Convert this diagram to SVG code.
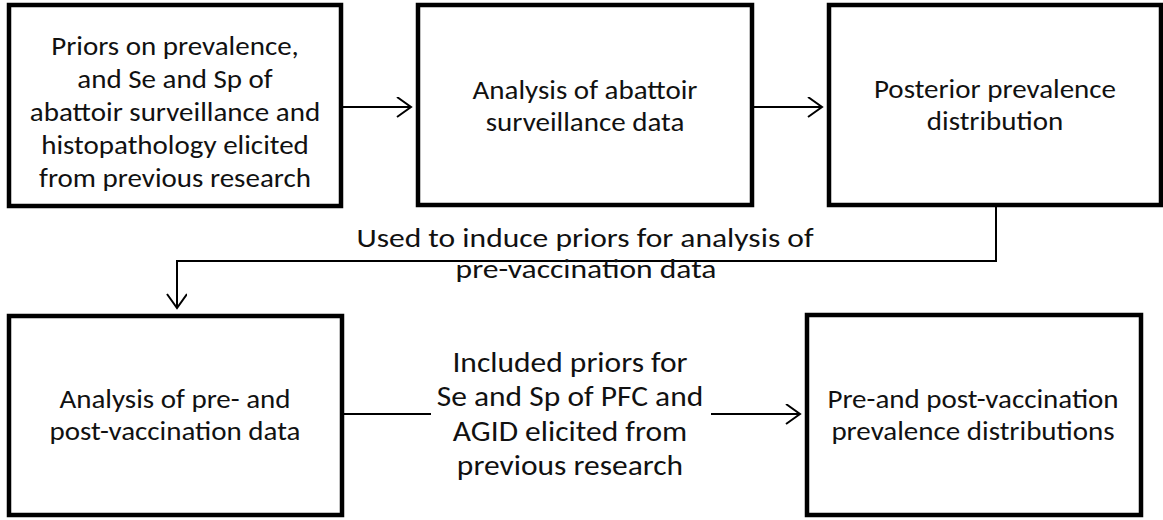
<svg xmlns="http://www.w3.org/2000/svg" width="1163" height="520" viewBox="0 0 1163 520">
<defs>
<style>
.box{fill:#fff;stroke:#000;stroke-width:4.5}
.t{font-family:Carlito,"Liberation Sans",Arial,sans-serif;font-size:27.5px;fill:#111;text-anchor:middle}
.l3{font-size:26.5px}
.l4{font-size:29px}
.c{fill:none;stroke:#000;stroke-width:2}
</style>
<marker id="ah" markerUnits="userSpaceOnUse" markerWidth="20" markerHeight="24" refX="15" refY="10" orient="auto" viewBox="0 0 20 24">
<path d="M1,0 L15,10 L1,20" fill="none" stroke="#000" stroke-width="2"/>
</marker>
</defs>
<rect width="1163" height="520" fill="#fff"/>
<g id="connectors">
<line class="c" x1="343" y1="107" x2="411" y2="107" marker-end="url(#ah)"/>
<line class="c" x1="754" y1="107" x2="822" y2="107" marker-end="url(#ah)"/>
<polyline class="c" points="996,207 996,261 177,261 177,308" marker-end="url(#ah)"/>
<line class="c" x1="344" y1="414" x2="431" y2="414"/>
<line class="c" x1="711" y1="414" x2="800" y2="414" marker-end="url(#ah)"/>
<text class="t l3" transform="translate(585,247) scale(1.19,1)">Used to induce priors for analysis of</text>
<text class="t l3" transform="translate(586,278) scale(1.19,1)">pre-vaccination data</text>
<text class="t l4" transform="translate(570,372) scale(1.086,1)">Included priors for</text>
<text class="t l4" transform="translate(570,406) scale(1.086,1)">Se and Sp of PFC and</text>
<text class="t l4" transform="translate(570,441) scale(1.086,1)">AGID elicited from</text>
<text class="t l4" transform="translate(570,475) scale(1.086,1)">previous research</text>
</g>
<g id="n1">
<rect class="box" x="9" y="5" width="332" height="201"/>
<text class="t" transform="translate(175,55) scale(1.055,1)">Priors on prevalence,</text>
<text class="t" transform="translate(175,88) scale(1.055,1)">and Se and Sp of</text>
<text class="t" transform="translate(175,121) scale(1.055,1)">abattoir surveillance and</text>
<text class="t" transform="translate(175,154) scale(1.055,1)">histopathology elicited</text>
<text class="t" transform="translate(175,187) scale(1.055,1)">from previous research</text>
</g>
<g id="n2">
<rect class="box" x="418" y="5" width="334" height="200"/>
<text class="t" transform="translate(585,99) scale(1.055,1)">Analysis of abattoir</text>
<text class="t" transform="translate(585,131) scale(1.055,1)">surveillance data</text>
</g>
<g id="n3">
<rect class="box" x="829" y="5" width="332" height="200"/>
<text class="t" transform="translate(995,98) scale(1.055,1)">Posterior prevalence</text>
<text class="t" transform="translate(995,130) scale(1.055,1)">distribution</text>
</g>
<g id="n4">
<rect class="box" x="9" y="316" width="333" height="199"/>
<text class="t" transform="translate(175,408) scale(1.055,1)">Analysis of pre- and</text>
<text class="t" transform="translate(175,440) scale(1.055,1)">post-vaccination data</text>
</g>
<g id="n5">
<rect class="box" x="807" y="315" width="334" height="200"/>
<text class="t" transform="translate(973,408) scale(1.055,1)">Pre-and post-vaccination</text>
<text class="t" transform="translate(973,440) scale(1.055,1)">prevalence distributions</text>
</g>
</svg>
